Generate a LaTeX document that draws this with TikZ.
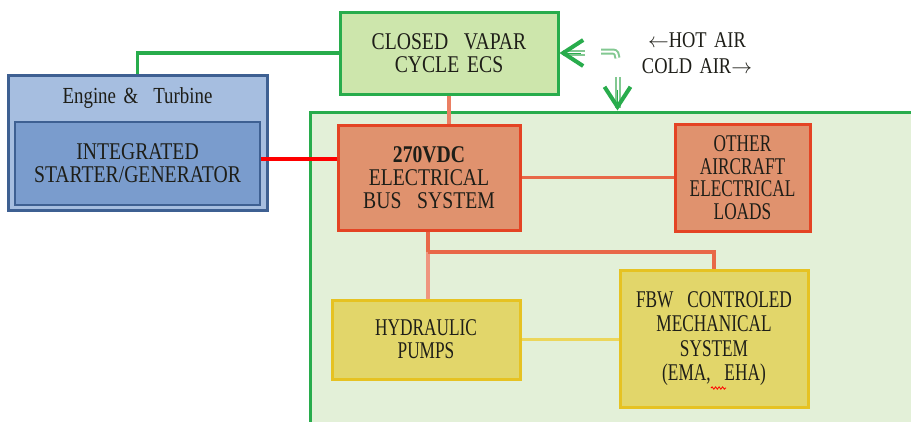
\documentclass[tikz,border=0pt]{standalone}
\usepackage{fontspec}
\setmainfont{Liberation Serif}[FakeStretch=0.82,WordSpace=1.6]
\newfontfamily\narrowfont{Liberation Serif}[FakeStretch=0.72,WordSpace=1.6]
\usetikzlibrary{arrows.meta,decorations.pathmorphing}

\definecolor{grnline}{RGB}{40,172,76}
\definecolor{grnpale}{RGB}{130,200,145}
\definecolor{ecsfill}{RGB}{205,230,172}
\definecolor{areafill}{RGB}{227,240,216}
\definecolor{engfill}{RGB}{166,190,224}
\definecolor{engdraw}{RGB}{62,96,146}
\definecolor{isgfill}{RGB}{122,156,205}
\definecolor{busfill}{RGB}{224,146,110}
\definecolor{busdraw}{RGB}{228,68,36}
\definecolor{busline}{RGB}{232,104,72}
\definecolor{yelfill}{RGB}{226,214,106}
\definecolor{yeldraw}{RGB}{230,194,34}
\definecolor{yelline}{RGB}{236,214,90}
\definecolor{txt}{RGB}{30,30,24}

\begin{document}
\begin{tikzpicture}[x=1pt,y=-1pt,
    box/.style={draw, line width=3pt, align=center, inner sep=0pt, text=txt,
        font=\fontsize{24}{23}\selectfont},
    greenbox/.style={box, draw=grnline, fill=ecsfill},
    bluebox/.style={box, draw=engdraw, fill=engfill},
    busbox/.style={box, draw=busdraw, fill=busfill},
    yelbox/.style={box, draw=yeldraw, fill=yelfill},
    airshaft/.style={line width=2pt, draw=grnpale, double=white, double distance=2pt},
    airtip/.style={line width=0.1pt, draw=grnline,
        -{Straight Barb[length=20pt,width=26pt,line width=4pt]}}]

    % Fix the frame to the picture size
    \clip (0,0) rectangle (911,421);
    \fill[white] (0,0) rectangle (911,421);

    % Draw the big green area (runs off the right and bottom)
    \node[box, draw=grnline, fill=areafill, minimum width=620, minimum height=328] (area) at (620,276) {};

    % Draw the ECS box and the engine
    \node[greenbox, minimum width=218, minimum height=82] (ecs) at (449,53) {CLOSED\ \ VAPAR\\CYCLE ECS};
    \node[bluebox, minimum width=259, minimum height=135] (engine) at (137.5,142.5) {};
    \node[text=txt, font=\fontsize{23}{24}\selectfont] (engtitle) at (137.5,98) {Engine \&\ \ Turbine};
    \node[box, line width=2.5pt, draw=engdraw, fill=isgfill, minimum width=245, minimum height=83] (isg) at (137.5,163.5) {INTEGRATED\\STARTER/GENERATOR};

    % Draw the electrical boxes
    \node[busbox, minimum width=182, minimum height=105] (bus) at (429,177.5) {\textbf{270VDC}\\ELECTRICAL\\BUS\ \ SYSTEM};
    \node[busbox, minimum width=135, minimum height=107, font=\narrowfont\fontsize{24}{22.5}\selectfont] (other) at (742.5,177.5) {OTHER\\AIRCRAFT\\ELECTRICAL\\LOADS};

    % Draw the yellow boxes
    \node[yelbox, minimum width=188, minimum height=79, font=\narrowfont\fontsize{24}{23}\selectfont] (hyd) at (426,339.5) {HYDRAULIC\\PUMPS};
    \node[yelbox, minimum width=188, minimum height=137, font=\narrowfont\fontsize{24}{24.5}\selectfont] (fbw) at (714,338.5) {FBW\ \ CONTROLED\\MECHANICAL\\SYSTEM\\(EMA,\ \ EHA)};
    \draw[red, line width=0.8pt, decorate, decoration={snake,amplitude=1.2pt,segment length=3.5pt}] (711,388) -- (726,388);

    % Air text
    \node[align=center, text=txt, font=\fontsize{22.5}{26}\selectfont] (airtext) at (697,53) {$\leftarrow$HOT AIR\\COLD AIR$\rightarrow$};

    % Connectors
    \draw[grnline, line width=3.5pt] (engine.north) |- (ecs.west);
    \draw[red, line width=4pt] ([yshift=5pt]isg.east) coordinate (isgout) -- (isgout -| bus.west);
    \draw[busline!85!white, line width=3.5pt] (ecs.south) -- (ecs.south |- bus.north);
    \draw[busline, line width=3.5pt] (bus.east) -- (bus.east -| other.west);
    \coordinate (tee) at (428,252);
    \draw[busline, line width=3.5pt] (tee |- bus.south) -- (tee);
    \draw[busline!70!white, line width=3.5pt] (tee) -- (tee |- hyd.north);
    \draw[busline, line width=3.5pt] (tee) -| (fbw.north);
    \draw[yelline, line width=3.5pt] (hyd.east) -- (hyd.east -| fbw.west);

    % Hot air in, cold air out
    \coordinate (hotin) at (585,53);
    \draw[airshaft] (hotin) -- ([xshift=3pt]ecs.east);
    \draw[airtip] ([xshift=21pt]ecs.east) -- (ecs.east);
    \draw[airshaft] (601,51.5) -- (613,51.5) to[out=0,in=90] (617.5,58);
    \coordinate (coldout) at (617.5,77);
    \draw[airshaft] (coldout) -- ([yshift=3pt]coldout |- area.north);
    \draw[airtip] ([yshift=21pt]coldout |- area.north) -- (coldout |- area.north);
\end{tikzpicture}
\end{document}
